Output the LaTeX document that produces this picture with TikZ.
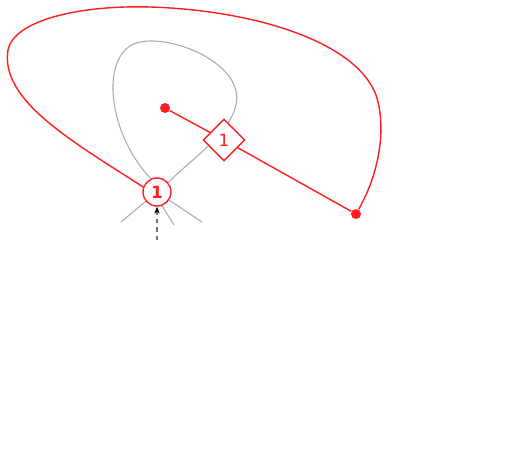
\documentclass[tikz,border=0pt]{standalone}
\usepackage{fontspec}
\setmainfont{DejaVu Sans}
\definecolor{loopRed}{RGB}{255, 30, 30}
\definecolor{loopGray}{RGB}{170, 170, 170}
\usetikzlibrary{shapes.geometric, arrows.meta, positioning, backgrounds}

\begin{document}
\begin{tikzpicture}[x=0.025cm, y=-0.025cm, every node/.style={font=\large}]
        \useasboundingbox (0,0) rectangle (511,451);

        \node[draw=loopRed, fill=white, circle, line width=1pt, minimum size=0.7cm, inner sep=0pt, text=loopRed, font=\large\bfseries] (join) at (157,192) {1};
        \node[draw=loopRed, fill=white, diamond, line width=1pt, minimum width=1.05cm, minimum height=1.05cm, inner sep=0pt, text=loopRed] (gate) at (224,140) {1};
        \node[fill=loopRed, circle, minimum size=0.25cm, inner sep=0pt] (src) at (165,108) {};
        \node[fill=loopRed, circle, minimum size=0.25cm, inner sep=0pt] (dst) at (356,214) {};

        \coordinate (legL) at (121,222);
        \coordinate (legM) at (174,225);
        \coordinate (legR) at (202,222);
        \coordinate (tail) at (157,240);

        \begin{scope}[on background layer]
        % gray loop through the join
        \draw[loopGray, line width=0.75pt] (join.115) .. controls (105,130) and (100,50) .. (140,42)
              .. controls (175,35) and (245,65) .. (236,105)
              .. controls (229,135) and (190,160) .. (join.40);
        \draw[loopGray, line width=0.75pt] (join) -- (legL);
        \draw[loopGray, line width=0.75pt] (join) -- (legR);
        \draw[loopGray, line width=0.75pt] (join.-70) -- (legM);

        % red loop and edge
        \draw[loopRed, line width=1pt] (join.160) .. controls (70,140) and (0,100) .. (8,50)
              .. controls (14,20) and (80,5) .. (150,7)
              .. controls (250,10) and (355,40) .. (376,95)
              .. controls (386,125) and (381,170) .. (dst);
        \draw[loopRed, line width=1pt] (src) -- (gate) -- (dst);
        \end{scope}

        \draw[black!55, dashed, line width=0.75pt, -{Stealth[black, length=5pt]}] (tail) -- (join);
      \end{tikzpicture}
\end{document}
